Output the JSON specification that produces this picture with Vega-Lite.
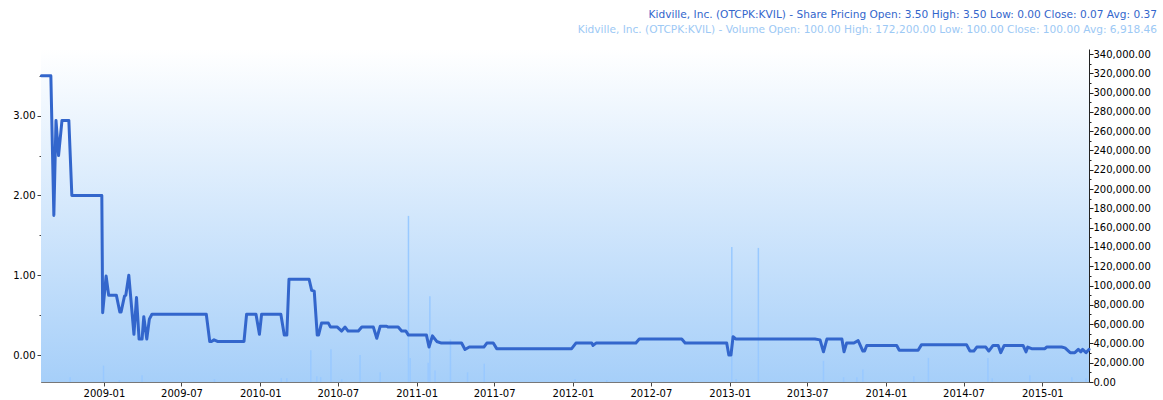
{
  "$schema": "https://vega.github.io/schema/vega-lite/v6.json",
  "width": 1048,
  "height": 333,
  "autosize": {"type": "none"},
  "padding": {"left": 41, "top": 49, "right": 74, "bottom": 18},
  "background": "white",
  "title": {
    "text": "Kidville, Inc. (OTCPK:KVIL) - Share Pricing Open: 3.50 High: 3.50 Low: 0.00 Close: 0.07 Avg: 0.37",
    "subtitle": "Kidville, Inc. (OTCPK:KVIL) - Volume Open: 100.00 High: 172,200.00 Low: 100.00 Close: 100.00 Avg: 6,918.46",
    "anchor": "end",
    "frame": "group",
    "dx": 68,
    "offset": 13,
    "font": "DejaVu Sans",
    "fontSize": 10.6,
    "fontWeight": "normal",
    "color": "#3366cc",
    "subtitleFont": "DejaVu Sans",
    "subtitleFontSize": 10.6,
    "subtitleColor": "#9dc9f5",
    "subtitlePadding": 5
  },
  "datasets": {
    "price": [
      {"date": "2008-08-08", "price": 3.50},
      {"date": "2008-08-30", "price": 3.50},
      {"date": "2008-09-06", "price": 1.75},
      {"date": "2008-09-11", "price": 2.94},
      {"date": "2008-09-17", "price": 2.50},
      {"date": "2008-09-25", "price": 2.94},
      {"date": "2008-10-11", "price": 2.94},
      {"date": "2008-10-18", "price": 2.00},
      {"date": "2008-12-27", "price": 2.00},
      {"date": "2008-12-29", "price": 0.53},
      {"date": "2009-01-06", "price": 0.99},
      {"date": "2009-01-12", "price": 0.75},
      {"date": "2009-01-30", "price": 0.75},
      {"date": "2009-02-07", "price": 0.54},
      {"date": "2009-02-10", "price": 0.54},
      {"date": "2009-02-18", "price": 0.74},
      {"date": "2009-02-21", "price": 0.75},
      {"date": "2009-02-28", "price": 1.00},
      {"date": "2009-03-12", "price": 0.26},
      {"date": "2009-03-18", "price": 0.72},
      {"date": "2009-03-24", "price": 0.20},
      {"date": "2009-03-31", "price": 0.20},
      {"date": "2009-04-04", "price": 0.48},
      {"date": "2009-04-11", "price": 0.20},
      {"date": "2009-04-17", "price": 0.45},
      {"date": "2009-04-23", "price": 0.51},
      {"date": "2009-08-28", "price": 0.51},
      {"date": "2009-09-05", "price": 0.17},
      {"date": "2009-09-09", "price": 0.17},
      {"date": "2009-09-15", "price": 0.19},
      {"date": "2009-09-23", "price": 0.17},
      {"date": "2009-11-24", "price": 0.17},
      {"date": "2009-11-30", "price": 0.51},
      {"date": "2009-12-22", "price": 0.51},
      {"date": "2009-12-30", "price": 0.26},
      {"date": "2010-01-04", "price": 0.51},
      {"date": "2010-02-18", "price": 0.51},
      {"date": "2010-02-26", "price": 0.25},
      {"date": "2010-03-04", "price": 0.25},
      {"date": "2010-03-09", "price": 0.95},
      {"date": "2010-04-25", "price": 0.95},
      {"date": "2010-05-01", "price": 0.81},
      {"date": "2010-05-07", "price": 0.80},
      {"date": "2010-05-14", "price": 0.25},
      {"date": "2010-05-17", "price": 0.25},
      {"date": "2010-05-24", "price": 0.40},
      {"date": "2010-06-09", "price": 0.40},
      {"date": "2010-06-14", "price": 0.35},
      {"date": "2010-06-30", "price": 0.35},
      {"date": "2010-07-10", "price": 0.30},
      {"date": "2010-07-18", "price": 0.35},
      {"date": "2010-07-25", "price": 0.30},
      {"date": "2010-08-18", "price": 0.30},
      {"date": "2010-08-26", "price": 0.35},
      {"date": "2010-09-22", "price": 0.35},
      {"date": "2010-09-30", "price": 0.21},
      {"date": "2010-10-08", "price": 0.36},
      {"date": "2010-10-23", "price": 0.36},
      {"date": "2010-10-26", "price": 0.35},
      {"date": "2010-11-19", "price": 0.35},
      {"date": "2010-11-27", "price": 0.30},
      {"date": "2010-12-07", "price": 0.30},
      {"date": "2010-12-13", "price": 0.25},
      {"date": "2011-01-24", "price": 0.25},
      {"date": "2011-01-30", "price": 0.10},
      {"date": "2011-02-07", "price": 0.24},
      {"date": "2011-02-17", "price": 0.17},
      {"date": "2011-02-28", "price": 0.15},
      {"date": "2011-04-16", "price": 0.15},
      {"date": "2011-04-24", "price": 0.07},
      {"date": "2011-05-04", "price": 0.10},
      {"date": "2011-06-07", "price": 0.10},
      {"date": "2011-06-14", "price": 0.15},
      {"date": "2011-06-29", "price": 0.15},
      {"date": "2011-07-07", "price": 0.08},
      {"date": "2011-12-29", "price": 0.08},
      {"date": "2012-01-08", "price": 0.15},
      {"date": "2012-02-14", "price": 0.15},
      {"date": "2012-02-17", "price": 0.12},
      {"date": "2012-02-24", "price": 0.15},
      {"date": "2012-05-27", "price": 0.15},
      {"date": "2012-06-04", "price": 0.20},
      {"date": "2012-09-11", "price": 0.20},
      {"date": "2012-09-19", "price": 0.15},
      {"date": "2012-12-25", "price": 0.15},
      {"date": "2012-12-30", "price": 0.00},
      {"date": "2013-01-04", "price": 0.00},
      {"date": "2013-01-09", "price": 0.23},
      {"date": "2013-01-16", "price": 0.20},
      {"date": "2013-07-19", "price": 0.20},
      {"date": "2013-07-31", "price": 0.19},
      {"date": "2013-08-08", "price": 0.04},
      {"date": "2013-08-16", "price": 0.20},
      {"date": "2013-09-20", "price": 0.20},
      {"date": "2013-09-25", "price": 0.04},
      {"date": "2013-10-01", "price": 0.15},
      {"date": "2013-10-18", "price": 0.15},
      {"date": "2013-10-28", "price": 0.18},
      {"date": "2013-11-08", "price": 0.05},
      {"date": "2013-11-12", "price": 0.05},
      {"date": "2013-11-17", "price": 0.12},
      {"date": "2014-01-26", "price": 0.12},
      {"date": "2014-02-01", "price": 0.06},
      {"date": "2014-03-17", "price": 0.06},
      {"date": "2014-03-25", "price": 0.13},
      {"date": "2014-07-08", "price": 0.13},
      {"date": "2014-07-16", "price": 0.05},
      {"date": "2014-07-25", "price": 0.05},
      {"date": "2014-08-01", "price": 0.10},
      {"date": "2014-08-22", "price": 0.10},
      {"date": "2014-08-29", "price": 0.05},
      {"date": "2014-09-08", "price": 0.12},
      {"date": "2014-09-20", "price": 0.12},
      {"date": "2014-09-26", "price": 0.03},
      {"date": "2014-10-04", "price": 0.12},
      {"date": "2014-11-17", "price": 0.12},
      {"date": "2014-11-24", "price": 0.04},
      {"date": "2014-11-28", "price": 0.10},
      {"date": "2014-12-07", "price": 0.08},
      {"date": "2015-01-07", "price": 0.08},
      {"date": "2015-01-11", "price": 0.10},
      {"date": "2015-02-15", "price": 0.10},
      {"date": "2015-02-23", "price": 0.09},
      {"date": "2015-03-07", "price": 0.03},
      {"date": "2015-03-18", "price": 0.03},
      {"date": "2015-03-26", "price": 0.07},
      {"date": "2015-04-01", "price": 0.04},
      {"date": "2015-04-05", "price": 0.07},
      {"date": "2015-04-13", "price": 0.03},
      {"date": "2015-04-20", "price": 0.07}
    ],
    "volume": [
      {"date": "2008-08-08", "volume": 100},
      {"date": "2008-10-14", "volume": 5000},
      {"date": "2008-12-31", "volume": 17000},
      {"date": "2009-02-06", "volume": 2000},
      {"date": "2009-03-31", "volume": 7000},
      {"date": "2009-09-16", "volume": 3000},
      {"date": "2010-02-19", "volume": 4000},
      {"date": "2010-03-04", "volume": 4000},
      {"date": "2010-04-29", "volume": 33000},
      {"date": "2010-05-13", "volume": 6000},
      {"date": "2010-05-22", "volume": 5000},
      {"date": "2010-06-15", "volume": 34000},
      {"date": "2010-07-10", "volume": 3000},
      {"date": "2010-08-22", "volume": 28000},
      {"date": "2010-10-08", "volume": 10000},
      {"date": "2010-12-13", "volume": 172200},
      {"date": "2010-12-17", "volume": 25000},
      {"date": "2011-01-28", "volume": 20000},
      {"date": "2011-02-01", "volume": 89000},
      {"date": "2011-02-13", "volume": 12000},
      {"date": "2011-03-21", "volume": 44000},
      {"date": "2011-04-30", "volume": 10000},
      {"date": "2011-06-08", "volume": 19000},
      {"date": "2012-01-06", "volume": 3000},
      {"date": "2012-03-20", "volume": 2000},
      {"date": "2012-10-06", "volume": 2000},
      {"date": "2013-01-06", "volume": 140000},
      {"date": "2013-01-16", "volume": 3000},
      {"date": "2013-03-09", "volume": 139000},
      {"date": "2013-08-08", "volume": 22000},
      {"date": "2013-09-24", "volume": 5000},
      {"date": "2013-10-25", "volume": 5000},
      {"date": "2013-11-08", "volume": 13000},
      {"date": "2014-03-07", "volume": 6000},
      {"date": "2014-04-10", "volume": 25000},
      {"date": "2014-08-27", "volume": 25000},
      {"date": "2014-09-06", "volume": 4000},
      {"date": "2014-12-03", "volume": 7000},
      {"date": "2015-03-11", "volume": 5000},
      {"date": "2015-04-13", "volume": 4000},
      {"date": "2015-04-20", "volume": 100}
    ]
  },
  "config": {
    "view": {"stroke": null},
    "axis": {
      "labelFont": "DejaVu Sans",
      "labelFontSize": 10,
      "labelColor": "#000000",
      "domainColor": "#555555",
      "tickColor": "#444444",
      "grid": false,
      "title": null
    }
  },
  "layer": [
    {
      "data": {"values": [{}]},
      "mark": {
        "type": "rect",
        "fill": {
          "gradient": "linear",
          "x1": 0, "y1": 0, "x2": 0, "y2": 1,
          "stops": [
            {"offset": 0, "color": "#ffffff"},
            {"offset": 1, "color": "#a6cff9"}
          ]
        }
      },
      "encoding": {}
    },
    {
      "data": {"name": "volume"},
      "mark": {"type": "rule", "color": "#99c9ff", "strokeWidth": 1.5},
      "encoding": {
        "x": {
          "field": "date", "type": "temporal",
          "scale": {"domain": [{"year": 2008, "month": 8, "date": 7}, {"year": 2015, "month": 4, "date": 20}], "nice": false},
          "axis": {
            "format": "%Y-%m",
            "tickCount": {"interval": "month", "step": 6},
            "tickSize": 4,
            "labelPadding": 2,
            "domainColor": "#777777"
          }
        },
        "y": {
          "field": "volume", "type": "quantitative",
          "scale": {"domain": [0, 345200], "nice": false, "zero": true},
          "axis": {
            "orient": "right",
            "values": [0, 10000, 20000, 30000, 40000, 50000, 60000, 70000, 80000, 90000, 100000, 110000, 120000, 130000, 140000, 150000, 160000, 170000, 180000, 190000, 200000, 210000, 220000, 230000, 240000, 250000, 260000, 270000, 280000, 290000, 300000, 310000, 320000, 330000, 340000],
            "labelExpr": "datum.value % 20000 === 0 ? format(datum.value, ',.2f') : ''",
            "tickSize": {"condition": {"test": "datum.value % 20000 === 0", "value": 4}, "value": 2},
            "labelPadding": 0,
            "domainColor": "#222222",
            "tickColor": "#222222",
            "labelBound": false,
            "labelOverlap": false
          }
        },
        "y2": {"datum": 0}
      }
    },
    {
      "data": {"name": "price"},
      "mark": {"type": "line", "color": "#3366cc", "strokeWidth": 3, "strokeJoin": "round", "strokeCap": "round"},
      "encoding": {
        "x": {
          "field": "date", "type": "temporal",
          "scale": {"domain": [{"year": 2008, "month": 8, "date": 7}, {"year": 2015, "month": 4, "date": 20}], "nice": false},
          "axis": {
            "format": "%Y-%m",
            "tickCount": {"interval": "month", "step": 6},
            "tickSize": 4,
            "labelPadding": 2,
            "domainColor": "#777777"
          }
        },
        "y": {
          "field": "price", "type": "quantitative",
          "scale": {"domain": [-0.338, 3.835], "nice": false, "zero": false},
          "axis": {
            "orient": "left",
            "values": [0, 0.5, 1, 1.5, 2, 2.5, 3, 3.5],
            "labelExpr": "datum.value % 1 === 0 ? format(datum.value, '.2f') : ''",
            "tickSize": {"condition": {"test": "datum.value % 1 === 0", "value": 4}, "value": 2},
            "labelPadding": 2
          }
        }
      }
    }
  ],
  "resolve": {"scale": {"y": "independent"}}
}
